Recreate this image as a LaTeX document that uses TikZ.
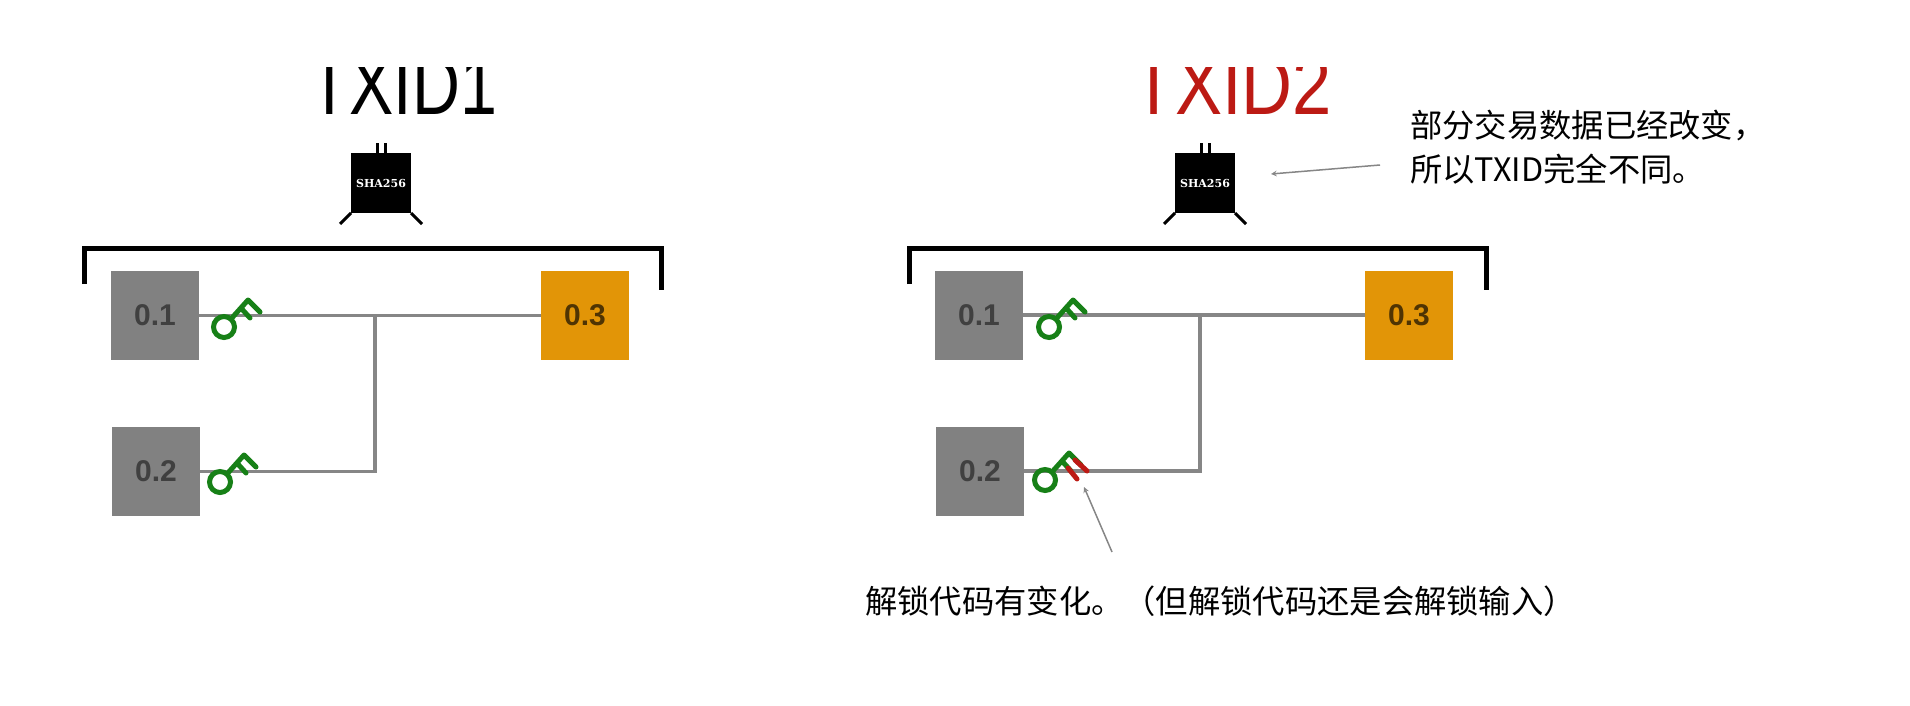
\documentclass[tikz,border=0pt]{standalone}
\usepackage{fontspec}
\usetikzlibrary{positioning}
\setmainfont{Liberation Sans}
\newfontfamily\cjkfont{Noto Sans CJK SC}
\newfontfamily\chipfont{DejaVu Serif}
\definecolor{wire}{HTML}{868686}
\definecolor{boxgray}{HTML}{818181}
\definecolor{keygreen}{HTML}{178017}
\definecolor{keyred}{HTML}{BC1A14}
\definecolor{amber}{HTML}{E29507}

\begin{document}
\begin{tikzpicture}[x=1pt, y=-1pt, >=stealth]
  \tikzstyle{box}=[rectangle, fill=boxgray, text=black!75, inner sep=0pt, outer sep=0pt, minimum width=88pt, minimum height=89pt, font=\bfseries\fontsize{30}{30}\selectfont]
  \tikzstyle{outbox}=[box, fill=amber, text=amber!35!black]
  \tikzstyle{link}=[draw=wire, line width=3.6pt]
  \tikzstyle{chip}=[rectangle, fill=black, text=white, inner sep=0pt, outer sep=0pt, minimum width=60pt, minimum height=60pt, font=\chipfont\bfseries\fontsize{11}{12}\selectfont]
  \tikzstyle{chipline}=[draw=black, line width=3pt]
  \tikzstyle{bracket}=[draw=black, line width=5pt]
  \tikzstyle{title}=[inner sep=0pt, anchor=base west, transform shape, font=\fontsize{84}{84}\selectfont]
  \tikzstyle{note}=[inner sep=0pt, anchor=west, align=left, font=\cjkfont\fontsize{32.3}{44}\selectfont]
  \tikzstyle{pointer}=[->, draw=wire, line width=1.5pt]
  \tikzset{
    keyicon/.pic={
      \draw[draw=keygreen, line width=5pt] (0,0) circle (10.5pt);
      \draw[draw=keygreen, line width=5pt, line cap=round, line join=round] (7,-8) -- (24,-27) -- (36,-15);
      \draw[draw=keygreen, line width=5pt, line cap=round] (17,-19) -- (26,-9);
    },
    keytip/.pic={
      \draw[draw=keyred, line width=5pt, line cap=round] (30,-20) -- (42,-9);
      \draw[draw=keyred, line width=5pt, line cap=round] (23,-12) -- (32,-1);
    }
  }

  \useasboundingbox (0,0) rectangle (1910,706);

  % titles, cut at the top
  \begin{scope}
    \clip (0,68) rectangle (1910,135);
    \node[title, xscale=.79] (t1) at (309,115) {TXID1};
    \node[title, xscale=.84, text=keyred] (t2) at (1132,115) {TXID2};
  \end{scope}

  % left side
  \node[chip] (c1) at (381,183) {SHA256};
  \draw[bracket] (84,284) -- (84,248) -- (661,248) -- (661,290);
  \node[box] (a1) at (155,315.5) {0.1};
  \node[box, below=67pt of a1, xshift=1pt] (a2) {0.2};
  \node[outbox, right=342pt of a1] (a3) {0.3};
  \coordinate (ja) at (375,315.5);
  \draw[link] (a1) -- (a3);
  \draw[link] (a2) -| (ja);
  \pic at (224,327) {keyicon};
  \pic at (220,482) {keyicon};

  % right side
  \node[chip] (c2) at (1205,183) {SHA256};
  \draw[bracket] (909,284) -- (909,248) -- (1486,248) -- (1486,290);
  \node[box] (b1) at (979,315) {0.1};
  \node[box, below=67pt of b1, xshift=1pt] (b2) {0.2};
  \node[outbox, right=342pt of b1] (b3) {0.3};
  \coordinate (jb) at (1200,315);
  \draw[link] (b1) -- (b3);
  \draw[link] (b2) -| (jb);
  \pic at (1049,327) {keyicon};
  \pic at (1045,480) {keyicon};
  \pic at (1045,480) {keytip};

  \foreach \c in {c1,c2} {
    \draw[chipline] (\c.south west) -- ++(-11,11);
    \draw[chipline] (\c.south east) -- ++(11,11);
    \draw[chipline] ([xshift=-4pt]\c.north) -- ++(0,-10);
    \draw[chipline] ([xshift=4pt]\c.north) -- ++(0,-10);
  }

  % notes
  \node[note] (n1) at (1410,147) {部分交易数据已经改变，\\所以TXID完全不同。};
  \node[note] (n2) at (865,601) {解锁代码有变化。（但解锁代码还是会解锁输入）};
  \coordinate (p1s) at (1380,165);
  \coordinate (p1e) at (1271,174);
  \coordinate (p2s) at (1112,552);
  \coordinate (p2e) at (1084,487);
  \draw[pointer] (p1s) -- (p1e);
  \draw[pointer] (p2s) -- (p2e);
\end{tikzpicture}
\end{document}
